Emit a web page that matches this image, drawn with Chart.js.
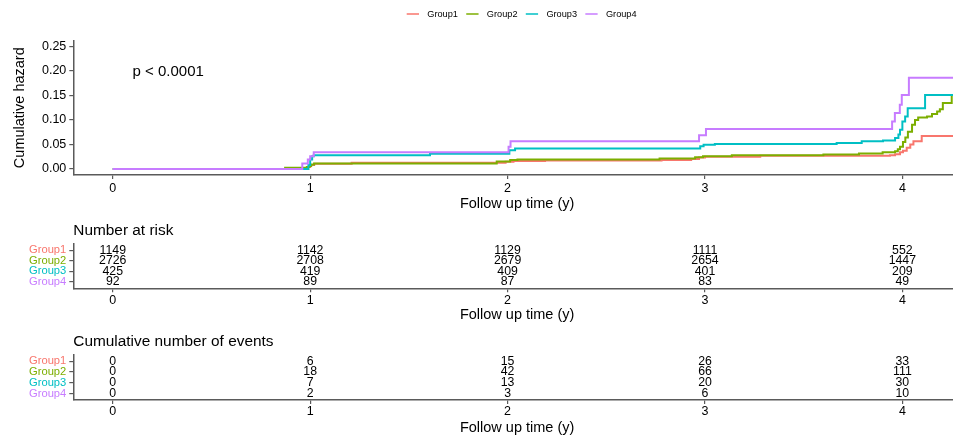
<!DOCTYPE html>
<html>
<head>
<meta charset="utf-8">
<script src="https://cdn.jsdelivr.net/npm/chart.js@4.4.1/dist/chart.umd.min.js"></script>
<style>
  body { margin: 0; overflow: hidden; background: #fff; width: 953px; height: 439px; position: relative; }
  canvas { position: absolute; left: 0; }
</style>
</head>
<body>
<canvas id="curva" width="961" height="215" style="top:0"></canvas>
<canvas id="risco" width="961" height="110" style="top:215px"></canvas>
<canvas id="eventos" width="961" height="114" style="top:325px"></canvas>
<script>
const grupos = ["Group1", "Group2", "Group3", "Group4"]
const cores = ["#F8766D", "#7CAE00", "#00BFC4", "#C77CFF"]
const anos = [0, 1, 2, 3, 4]
const ticksHazard = [0, 0.05, 0.10, 0.15, 0.20, 0.25]

// degraus da curva (tempo em anos, hazard acumulado)
const tempoG1 = [0, 0.99, 1.0, 1.02, 1.21, 1.99, 2.03, 2.19, 2.78, 2.93, 2.97, 3.0, 3.28, 3.937, 3.963, 3.988, 4.003, 4.022, 4.04, 4.056, 4.098, 4.3]
const hazardG1 = [0, 0.004, 0.008, 0.0106, 0.0125, 0.0145, 0.016, 0.017, 0.018, 0.020, 0.023, 0.025, 0.027, 0.028, 0.030, 0.034, 0.037, 0.043, 0.050, 0.0565, 0.067, 0.067]
const tempoG2 = [0, 0.873, 0.983, 0.995, 1.005, 1.02, 1.945, 2.013, 2.05, 2.77, 2.95, 2.99, 3.136, 3.6, 3.78, 3.9, 3.963, 3.977, 3.988, 4.003, 4.015, 4.028, 4.049, 4.064, 4.08, 4.125, 4.15, 4.176, 4.19, 4.205, 4.25, 4.3]
const hazardG2 = [0, 0.0024, 0.004, 0.006, 0.009, 0.011, 0.015, 0.018, 0.019, 0.021, 0.024, 0.026, 0.028, 0.0295, 0.0315, 0.034, 0.036, 0.040, 0.045, 0.055, 0.064, 0.076, 0.090, 0.100, 0.105, 0.107, 0.112, 0.117, 0.122, 0.1345, 0.151, 0.151]
const tempoG3 = [0, 0.991, 1.0, 1.01, 1.018, 1.607, 2.009, 2.038, 2.976, 2.993, 3.05, 3.667, 3.794, 3.902, 3.963, 3.98, 3.988, 4.0, 4.014, 4.027, 4.115, 4.3]
const hazardG3 = [0, 0.008, 0.019, 0.026, 0.028, 0.031, 0.038, 0.0417, 0.0463, 0.0495, 0.051, 0.053, 0.0565, 0.058, 0.063, 0.070, 0.080, 0.097, 0.107, 0.124, 0.151, 0.151]
const tempoG4 = [0, 0.96, 0.988, 1.0, 1.018, 2.005, 2.015, 2.97, 3.005, 3.948, 3.962, 3.987, 3.997, 4.033, 4.3]
const hazardG4 = [0, 0.011, 0.019, 0.026, 0.034, 0.045, 0.0565, 0.0687, 0.0817, 0.097, 0.114, 0.131, 0.151, 0.186, 0.186]

// tabelas
const emRisco = [
  [1149, 1142, 1129, 1111, 552],
  [2726, 2708, 2679, 2654, 1447],
  [425, 419, 409, 401, 209],
  [92, 89, 87, 83, 49]
]
const eventos = [
  [0, 6, 15, 26, 33],
  [0, 18, 42, 66, 111],
  [0, 7, 13, 20, 30],
  [0, 2, 3, 6, 10]
]

const tempos = [tempoG1, tempoG2, tempoG3, tempoG4]
const hazards = [hazardG1, hazardG2, hazardG3, hazardG4]

const fonte = '"Liberation Sans", Arial, sans-serif'
const corEixo = '#5a5a5a'
const corTexto = '#000'

function eixoX(padTitulo, padTick) {
  return {
    type: 'linear', min: -0.2, max: 4.297,
    afterBuildTicks: s => { s.ticks = anos.map(v => ({ value: v })) },
    afterFit: s => { s.height = padTitulo.altura },
    border: { display: true, color: corEixo, width: 1.5 },
    grid: { display: true, drawOnChartArea: false, drawTicks: true, tickLength: 4, color: corEixo, lineWidth: 1.2 },
    ticks: { color: corTexto, font: { family: fonte, size: 12.5 }, padding: padTick, autoSkip: false },
    title: { display: true, text: 'Follow up time (y)', color: corTexto, font: { family: fonte, size: 14.5 }, padding: { top: 0, bottom: padTitulo.baixo } }
  }
}

// legenda e valor de p
const extrasCurva = {
  id: 'extrasCurva',
  afterDraw(chart) {
    const { ctx, scales: { x, y } } = chart
    ctx.save()
    ctx.font = '9.2px ' + fonte
    ctx.textBaseline = 'middle'
    let px = 406.7
    grupos.forEach((g, i) => {
      ctx.strokeStyle = cores[i]
      ctx.lineWidth = 1.5
      ctx.beginPath()
      ctx.moveTo(px, 14)
      ctx.lineTo(px + 12.3, 14)
      ctx.stroke()
      ctx.fillStyle = corTexto
      ctx.fillText(g, px + 20.6, 14)
      px += 20.6 + ctx.measureText(g).width + 8.3
    })
    ctx.font = '15px ' + fonte
    ctx.fillText('p < 0.0001', x.getPixelForValue(0.1), y.getPixelForValue(0.198))
    ctx.restore()
  }
}

new Chart(document.getElementById('curva'), {
  type: 'scatter',
  data: {
    datasets: grupos.map((g, i) => ({
      label: g,
      data: tempos[i].map((t, j) => ({ x: t, y: hazards[i][j] })),
      showLine: true,
      stepped: 'before',
      borderColor: cores[i],
      borderWidth: 2,
      pointRadius: 0,
      order: grupos.length - i
    }))
  },
  options: {
    responsive: false,
    animation: false,
    layout: { padding: { top: 40.4, left: 0, right: 0, bottom: 0 } },
    plugins: { legend: { display: false }, tooltip: { enabled: false } },
    scales: {
      x: eixoX({ altura: 40, baixo: 2.3 }, 2.5),
      y: {
        min: -0.0125, max: 0.2625,
        afterBuildTicks: s => { s.ticks = ticksHazard.map(v => ({ value: v })) },
        afterFit: s => { s.width = 73.3 },
        border: { display: true, color: corEixo, width: 1.5 },
        grid: { display: true, drawOnChartArea: false, drawTicks: true, tickLength: 4, color: corEixo, lineWidth: 1.2 },
        ticks: { color: corTexto, font: { family: fonte, size: 12.5 }, padding: 3, autoSkip: false, callback: v => v.toFixed(2) },
        title: { display: true, text: 'Cumulative hazard', color: corTexto, font: { family: fonte, size: 14.5 }, padding: { top: 11.5, bottom: 0 } }
      }
    }
  },
  plugins: [extrasCurva]
})

// numeros das tabelas e titulo
const tabelaTexto = {
  id: 'tabelaTexto',
  afterDraw(chart, args, opts) {
    const { ctx, scales: { x, y } } = chart
    ctx.save()
    ctx.fillStyle = corTexto
    ctx.font = '12.3px ' + fonte
    ctx.textAlign = 'center'
    ctx.textBaseline = 'middle'
    opts.valores.forEach((linha, i) => {
      linha.forEach((v, j) => {
        ctx.fillText(String(v), x.getPixelForValue(anos[j]), y.getPixelForValue(i + 1))
      })
    })
    ctx.textAlign = 'left'
    ctx.textBaseline = 'alphabetic'
    ctx.font = '15.4px ' + fonte
    ctx.fillText(opts.titulo, chart.chartArea.left, opts.tituloY)
    ctx.restore()
  }
}

function tabela(id, titulo, valores, topo, altura, tituloY, baixo) {
  new Chart(document.getElementById(id), {
    type: 'scatter',
    data: { datasets: [{ data: [] }] },
    options: {
      responsive: false,
      animation: false,
      layout: { padding: { top: topo, left: 0, right: 0, bottom: 0 } },
      plugins: {
        legend: { display: false }, tooltip: { enabled: false },
        tabelaTexto: { valores: valores, titulo: titulo, tituloY: tituloY }
      },
      scales: {
        x: eixoX({ altura: altura, baixo: baixo }, 0.5),
        y: {
          min: 0.4, max: 4.6, reverse: true,
          afterBuildTicks: s => { s.ticks = grupos.map((g, i) => ({ value: i + 1 })) },
          afterFit: s => { s.width = 73.3 },
          border: { display: true, color: corEixo, width: 1.5 },
          grid: { display: true, drawOnChartArea: false, drawTicks: true, tickLength: 4, color: corEixo, lineWidth: 1.2 },
          ticks: {
            font: { family: fonte, size: 11.2 }, padding: 3, autoSkip: false,
            color: c => cores[c.index],
            callback: (v, i) => grupos[i]
          }
        }
      }
    },
    plugins: [tabelaTexto]
  })
}

tabela('risco', 'Number at risk', emRisco, 28.8, 36.7, 20, 1.3)
tabela('eventos', 'Cumulative number of events', eventos, 29.8, 39, 21, 2.5)
</script>
</body>
</html>
